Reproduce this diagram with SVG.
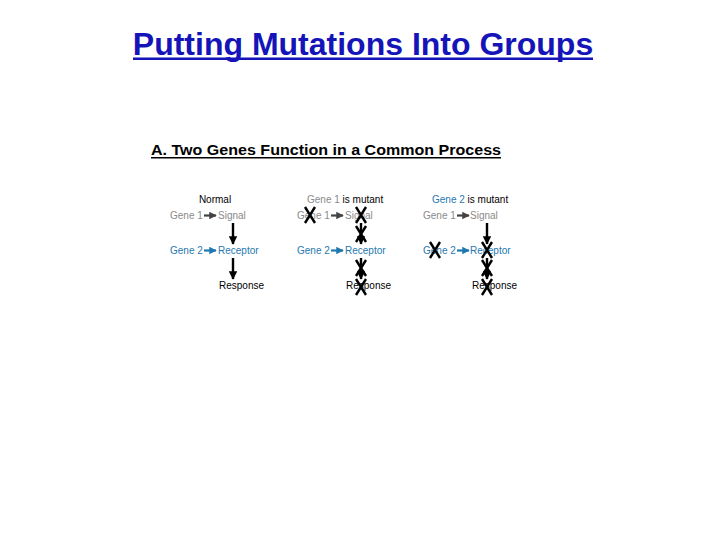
<svg xmlns="http://www.w3.org/2000/svg" width="720" height="540" viewBox="0 0 720 540">
<style>
  .t{font-family:"Liberation Sans",Arial,sans-serif;font-size:10px}
  .g{fill:#8a8a8a}
  .b{fill:#1f78b0}
  .k{fill:#000}
  .x{stroke:#000;stroke-width:2.4;fill:none;stroke-linecap:butt}
  .va{stroke:#000;stroke-width:2.4;fill:none}
</style>
<defs>
  <marker id="hk" viewBox="0 0 10 10" refX="9" refY="5" markerWidth="3.6" markerHeight="3.6" orient="auto" markerUnits="strokeWidth"><path d="M0,0 L10,5 L0,10 Z" fill="#000"/></marker>
  <marker id="hg" viewBox="0 0 10 10" refX="9" refY="5" markerWidth="3.4" markerHeight="3.4" orient="auto" markerUnits="strokeWidth"><path d="M0,0 L10,5 L0,10 Z" fill="#444"/></marker>
  <marker id="hb" viewBox="0 0 10 10" refX="9" refY="5" markerWidth="3.4" markerHeight="3.4" orient="auto" markerUnits="strokeWidth"><path d="M0,0 L10,5 L0,10 Z" fill="#1f78b0"/></marker>
  <path id="X" d="M-5,-8 L5,8 M5,-8 L-5,8" class="x"/>
</defs>
<rect width="720" height="540" fill="#fff"/>
<g id="title">
  <text x="363" y="55" text-anchor="middle" font-family="Liberation Sans,Arial,sans-serif" font-weight="bold" font-size="32" fill="#1414b8">Putting Mutations Into Groups</text>
  <rect x="133" y="57.5" width="460" height="2.5" fill="#1414b8"/>
</g>
<g id="subtitle">
  <text x="151" y="155" font-family="Liberation Sans,Arial,sans-serif" font-weight="bold" font-size="14" textLength="350" lengthAdjust="spacingAndGlyphs" fill="#000">A. Two Genes Function in a Common Process</text>
  <rect x="151" y="157" width="350" height="1.5" fill="#000"/>
</g>
<g id="panel-normal" class="t">
  <text x="215" y="203" text-anchor="middle" class="k">Normal</text>
  <text x="170" y="219" class="g">Gene 1</text>
  <text x="218" y="219" class="g">Signal</text>
  <text x="170" y="254" class="b">Gene 2</text>
  <text x="218" y="254" class="b">Receptor</text>
  <text x="219" y="289" class="k">Response</text>
</g>
<g id="panel-gene1" class="t">
  <text x="307" y="203"><tspan class="g">Gene 1 </tspan><tspan class="k">is mutant</tspan></text>
  <text x="297" y="219" class="g">Gene 1</text>
  <text x="345" y="219" class="g">Signal</text>
  <text x="297" y="254" class="b">Gene 2</text>
  <text x="345" y="254" class="b">Receptor</text>
  <text x="346" y="289" class="k">Response</text>
</g>
<g id="panel-gene2" class="t">
  <text x="432" y="203"><tspan class="b">Gene 2 </tspan><tspan class="k">is mutant</tspan></text>
  <text x="423" y="219" class="g">Gene 1</text>
  <text x="470" y="219" class="g">Signal</text>
  <text x="423" y="254" class="b">Gene 2</text>
  <text x="470" y="254" class="b">Receptor</text>
  <text x="472" y="289" class="k">Response</text>
</g>
<g id="connectors">
  <line x1="204" y1="215.5" x2="216" y2="215.5" stroke="#444" stroke-width="2.2" marker-end="url(#hg)"/>
  <line x1="204" y1="250.5" x2="216" y2="250.5" stroke="#1f78b0" stroke-width="2.2" marker-end="url(#hb)"/>
  <line x1="233" y1="223" x2="233" y2="244" class="va" marker-end="url(#hk)"/>
  <line x1="233" y1="258" x2="233" y2="279" class="va" marker-end="url(#hk)"/>

  <line x1="331" y1="215.5" x2="343" y2="215.5" stroke="#444" stroke-width="2.2" marker-end="url(#hg)"/>
  <line x1="331" y1="250.5" x2="343" y2="250.5" stroke="#1f78b0" stroke-width="2.2" marker-end="url(#hb)"/>
  <line x1="361" y1="223" x2="361" y2="244" class="va" marker-end="url(#hk)"/>
  <line x1="361" y1="258" x2="361" y2="279" class="va" marker-end="url(#hk)"/>

  <line x1="457" y1="215.5" x2="469" y2="215.5" stroke="#444" stroke-width="2.2" marker-end="url(#hg)"/>
  <line x1="457" y1="250.5" x2="469" y2="250.5" stroke="#1f78b0" stroke-width="2.2" marker-end="url(#hb)"/>
  <line x1="487" y1="223" x2="487" y2="244" class="va" marker-end="url(#hk)"/>
  <line x1="487" y1="258" x2="487" y2="279" class="va" marker-end="url(#hk)"/>
</g>
<g id="mutation-marks">
  <use href="#X" x="310" y="215"/>
  <use href="#X" x="361" y="215"/>
  <use href="#X" x="361" y="234"/>
  <use href="#X" x="361" y="268"/>
  <use href="#X" x="361" y="287"/>
  <use href="#X" x="435" y="250"/>
  <use href="#X" x="487" y="250"/>
  <use href="#X" x="487" y="268"/>
  <use href="#X" x="487" y="287"/>
</g>
</svg>
